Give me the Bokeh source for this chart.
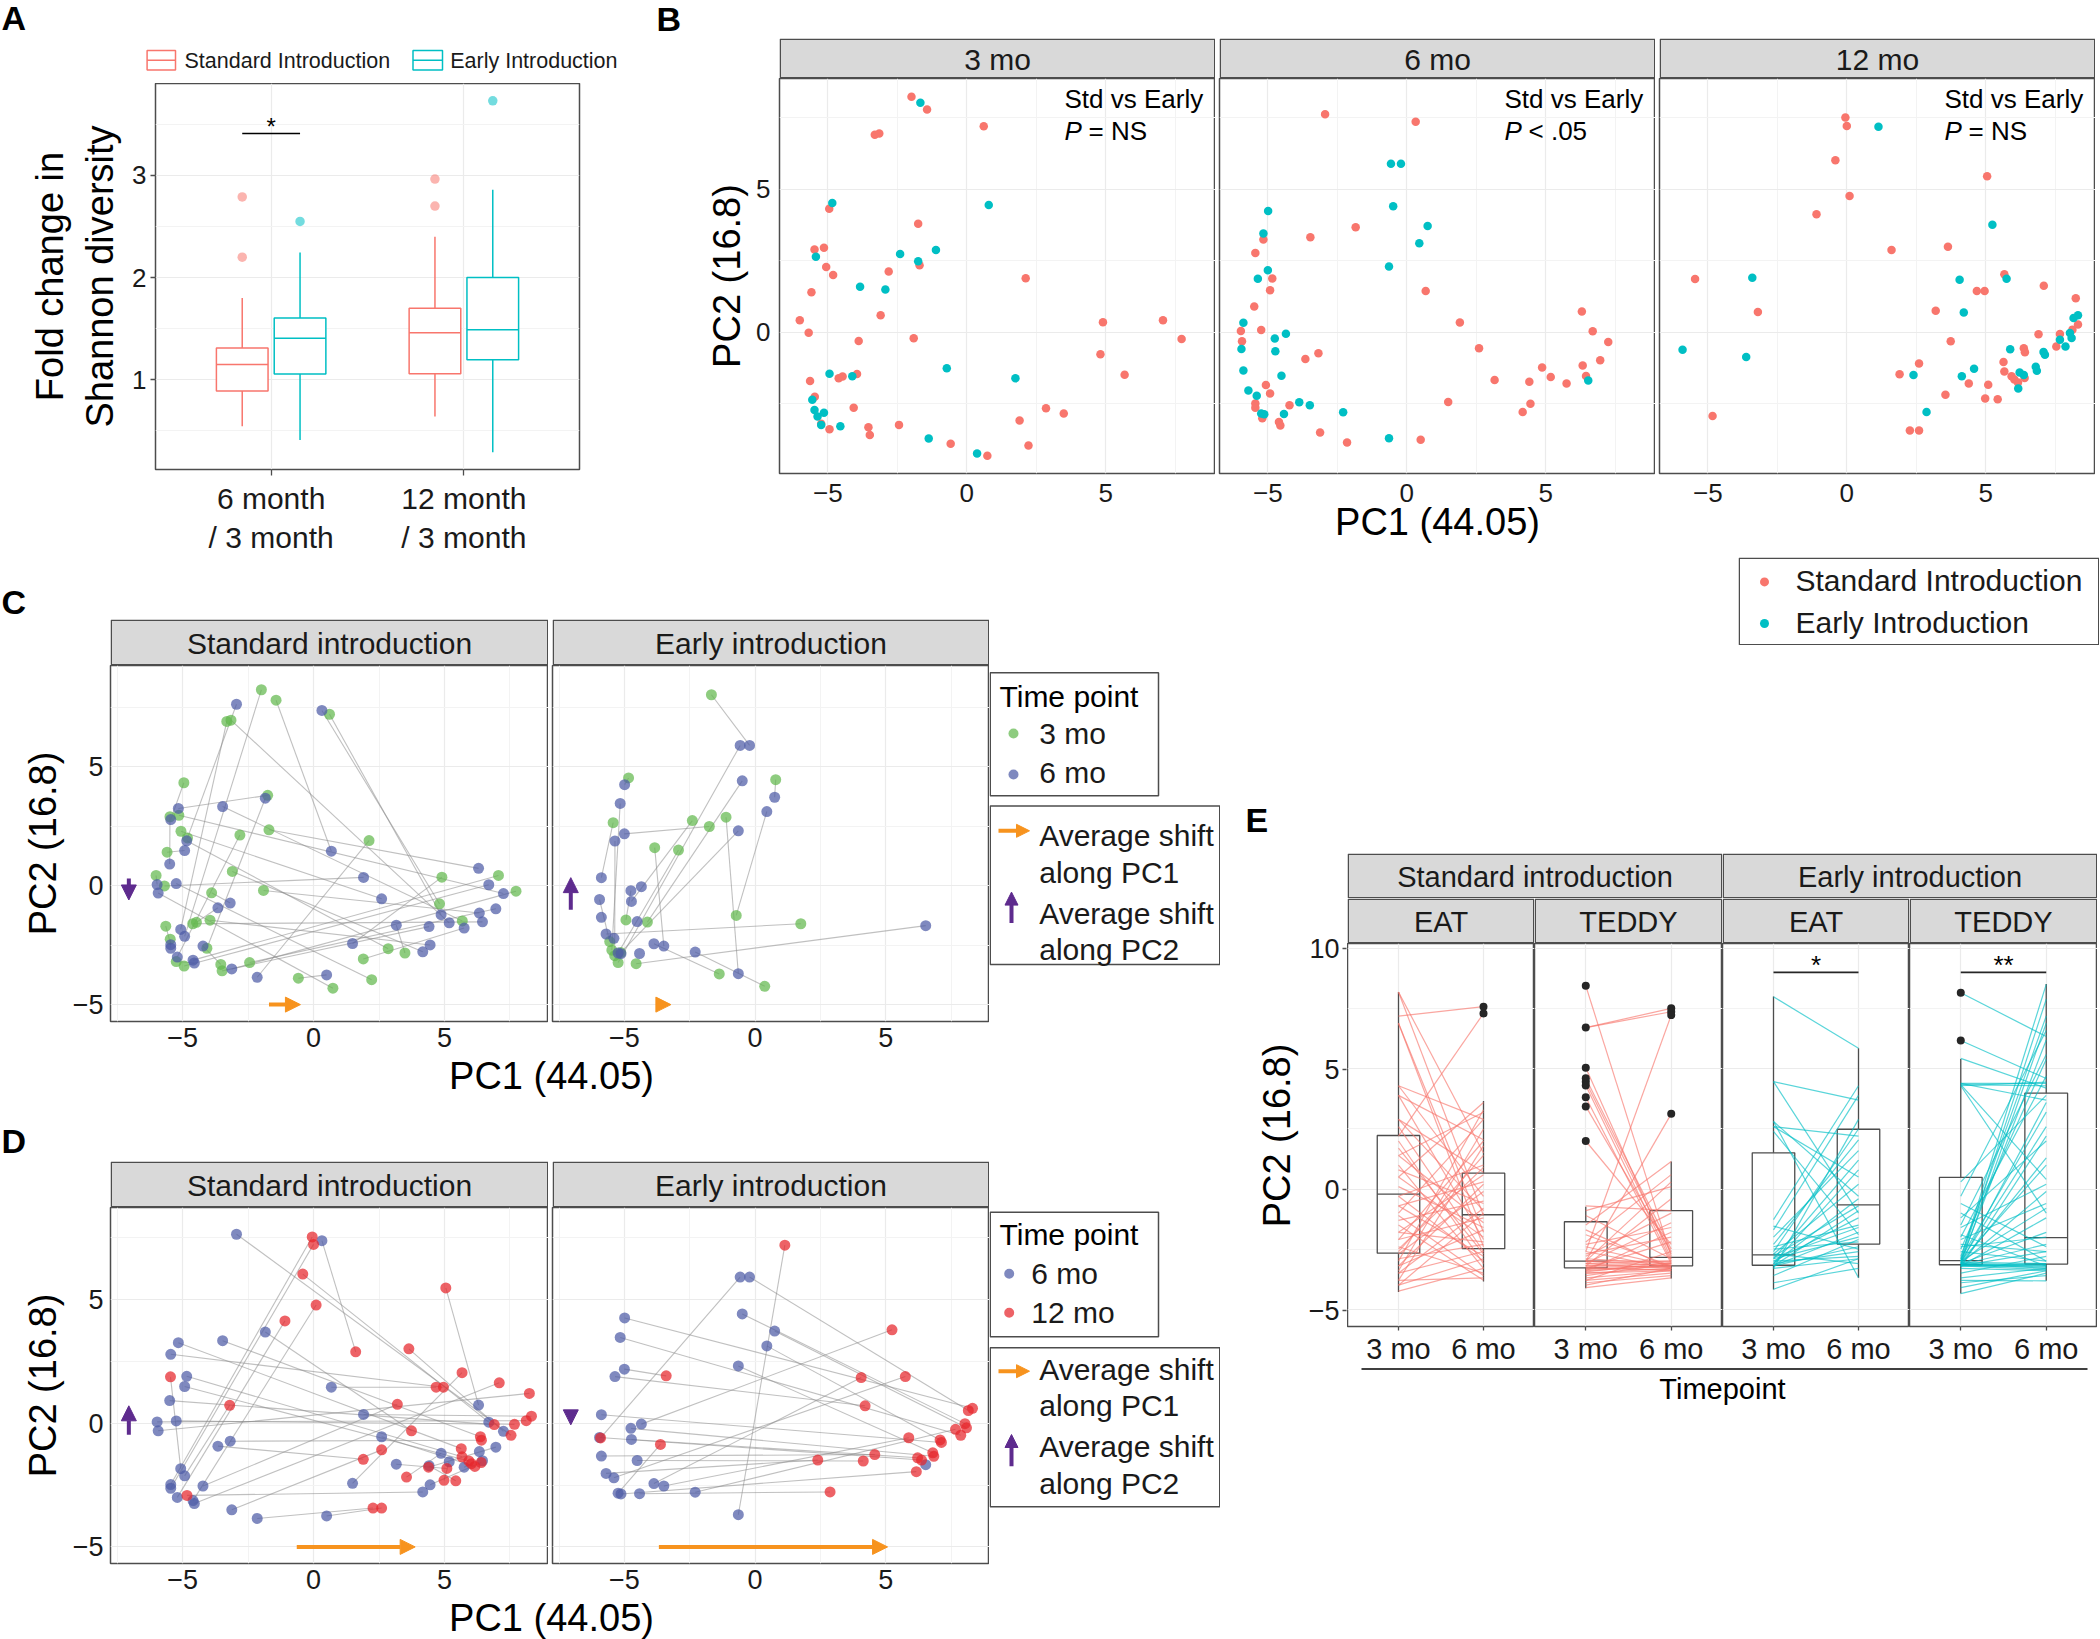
from bokeh.plotting import figure
from bokeh.layouts import row, column
from bokeh.models import FixedTicker, Label, Arrow, NormalHead, Range1d, Spacer
from bokeh.embed import file_html
from bokeh.resources import INLINE
from bokeh.core.properties import value

FONT = "Liberation Sans"
STD_COL = "#F8766D"
EARLY_COL = "#00BFC4"
GREEN = "#62B94E"
BLUE = "#4E5BA6"
RED = "#E6262B"
ORANGE = "#F7931E"
PURPLE = "#5E2B8E"
BORDER = "#4D4D4D"
STRIP_FILL = "#D9D9D9"
GRID = "#EBEBEB"
GRID_MINOR = "#F3F3F3"
TXT = "#1A1A1A"
MINUS = "\u2212"

# ---------------- Panel A data ----------------
A_CATS = ["6 month\n/ 3 month", "12 month\n/ 3 month"]
A_POS = [1, 2]
A_STD_LO = [0.545, 0.64]
A_STD_Q1 = [0.89, 1.06]
A_STD_MED = [1.15, 1.46]
A_STD_Q3 = [1.31, 1.70]
A_STD_HI = [1.80, 2.40]
A_EARLY_LO = [0.41, 0.29]
A_EARLY_Q1 = [1.056, 1.196]
A_EARLY_MED = [1.406, 1.49]
A_EARLY_Q3 = [1.605, 2.00]
A_EARLY_HI = [2.245, 2.86]
A_STD_OUT_CAT = [1, 1, 2, 2]
A_STD_OUT = [2.20, 2.79, 2.70, 2.965]
A_EARLY_OUT_CAT = [1, 2]
A_EARLY_OUT = [2.55, 3.73]
A_SIG_Y = 3.41

# ---------------- Panel B data (PC1, PC2) ----------------
S3_X = [-1.99, -1.43, 0.61, -3.31, -3.15, -4.95, -1.75, -5.48, -5.14, -5.06, -4.81, -2.81, -1.70, 2.12,
        -5.59, -3.10, -6.01, -5.69, -3.89, -1.91, 4.90, 7.06, 7.73, 4.81, 5.68, -5.64, -4.61, -4.47,
        -3.95, -5.47, -4.07, -5.24, -4.94, -3.54, -3.49, -2.44, 2.85, 3.49, 1.90, -0.58, 0.74, 2.22]
S3_Y = [8.24, 7.80, 7.21, 6.91, 6.96, 4.33, 3.80, 2.90, 2.96, 2.29, 2.01, 2.13, 2.35, 1.90,
        1.41, 0.60, 0.43, -0.01, -0.30, -0.20, 0.36, 0.43, -0.23, -0.76, -1.48, -1.70, -1.60, -1.54,
        -1.45, -2.25, -2.63, -3.19, -3.38, -3.31, -3.58, -3.23, -2.65, -2.83, -3.08, -3.89, -4.31, -3.95]
S6_X = [-2.94, -1.84, -3.47, -5.45, -5.16, -4.84, -4.92, -5.49, -5.24, -5.97, -5.93, -3.65, -3.18, -5.07,
        -4.92, -5.45, -5.45, -5.20, -4.60, -4.55, -4.22, -3.12, -2.15, 0.32, 0.68, 1.91, 2.60, 3.16,
        1.49, 4.41, 4.87, 5.18, 5.75, 4.17, 4.45, 6.30, 6.69, 7.25, 6.96, 6.33, 6.45, 0.50]
S6_Y = [7.63, 3.68, 3.33, 2.78, 3.25, 1.89, 1.48, 0.91, 0.09, 0.05, -0.31, -0.93, -0.73, -1.84,
        -2.13, -2.48, -2.63, -3.00, -3.13, -3.25, -2.54, -3.50, -3.85, 7.37, 1.45, 0.35, -0.55, -1.66,
        -2.43, -1.72, -1.22, -1.56, -1.78, -2.78, -2.49, 0.73, 0.04, -0.33, -0.97, -1.15, -1.52, -3.75]
S12_X = [-0.05, 0.00, -0.41, 5.05, 0.10, -1.09, 1.61, 3.64, -5.46, 5.67, 7.09, 4.68, 4.96, -3.20,
         3.20, 8.24, 3.74, 6.90, 7.67, 8.32, 8.12, 7.54, 6.37, 6.41, 5.64, 2.60, 1.90, 5.67,
         5.93, 6.03, 6.16, 6.40, 4.39, 5.09, 3.55, 4.98, 5.43, -4.83, 2.27, 2.60]
S12_Y = [7.52, 7.22, 6.02, 5.46, 4.77, 4.13, 2.88, 3.00, 1.87, 2.04, 1.63, 1.45, 1.45, 0.72,
         0.76, 1.20, -0.31, -0.06, -0.05, 0.28, 0.10, -0.49, -0.55, -0.69, -1.03, -1.08, -1.46, -1.36,
         -1.53, -1.64, -1.75, -1.59, -1.78, -1.83, -2.18, -2.31, -2.33, -2.92, -3.43, -3.43]
E3_X = [-1.67, -4.84, 0.79, -5.43, -2.40, -1.11, -1.75, -3.84, -2.93, -4.94, -4.12, -0.72, 1.75,
        -5.56, -5.48, -5.37, -5.14, -5.24, -4.55, -1.37, 0.37]
E3_Y = [8.03, 4.53, 4.46, 2.65, 2.74, 2.88, 2.49, 1.60, 1.50, -1.44, -1.53, -1.25, -1.60,
        -2.35, -2.71, -2.94, -2.81, -3.23, -3.28, -3.71, -4.23]
E6_X = [-0.57, -0.21, -0.49, -4.99, -5.16, -0.64, -5.00, -5.36, -5.88, -4.75, -4.35, -5.95, -4.73,
        -5.88, -4.51, -5.70, -5.40, -5.24, -5.13, -4.42, -3.87, -3.49, -2.29, -0.64, 0.75, 0.45, 6.53]
E6_Y = [5.90, 5.90, 4.41, 4.25, 3.46, 2.31, 2.18, 1.88, 0.34, -0.21, -0.04, -0.58, -0.66,
        -1.33, -1.51, -2.03, -2.21, -2.83, -2.86, -2.85, -2.44, -2.54, -2.79, -3.70, 3.72, 3.12, -1.68]
E12_X = [1.14, 5.24, -3.40, 4.06, 5.75, 4.21, -5.91, -3.62, 5.88, 8.16, 8.32, 8.03, 8.09, 7.67,
         7.87, 7.08, 7.13, 6.80, 6.84, 6.22, 6.37, 4.58, 4.14, 2.40, 6.17, 2.87]
E12_Y = [7.19, 3.77, 1.91, 1.84, 1.88, 0.70, -0.60, -0.86, -0.59, 0.51, 0.60, -0.02, -0.19, -0.25,
         -0.49, -0.68, -0.78, -1.20, -1.34, -1.40, -1.49, -1.27, -1.53, -1.49, -1.96, -2.78]
B_TIMES = ["3 mo", "6 mo", "12 mo"]
B_PTEXT = ["= NS", "< .05", "= NS"]

# ---------------- Panels C / D (subject pairs and average shifts) ----------------
C_STD_PAIRS = [(0, 14), (1, 24), (3, 13), (4, 31), (2, 30), (23, 23), (10, 0), (6, 4), (5, 3), (30, 1),
               (24, 2), (12, 35), (13, 22), (11, 17), (8, 37), (9, 26), (7, 7), (14, 6), (16, 9), (17, 25),
               (15, 33), (18, 12), (19, 39), (20, 28), (21, 18), (22, 21), (25, 15), (26, 40), (27, 11),
               (28, 34), (29, 16), (31, 19), (32, 36), (33, 20), (34, 29), (35, 38), (36, 5), (37, 27),
               (38, 32), (39, 41), (40, 10), (41, 8)]
C_EARLY_PAIRS = [(0, 1), (17, 0), (10, 2), (2, 24), (11, 25), (16, 5), (1, 3), (14, 4), (6, 6), (3, 8),
                 (15, 7), (7, 21), (8, 17), (5, 23), (12, 15), (18, 26), (19, 20), (20, 22), (9, 9),
                 (4, 12), (13, 11)]
D_STD_PAIRS = [(0, 21), (1, 16), (2, 22), (3, 12), (4, 24), (5, 27), (6, 28), (7, 17), (8, 18), (9, 20),
               (10, 15), (11, 26), (12, 23), (13, 8), (14, 13), (15, 0), (16, 1), (17, 5), (18, 4), (19, 10),
               (20, 14), (21, 25), (22, 38), (23, 6), (24, 11), (25, 19), (26, 30), (27, 33), (28, 9),
               (29, 36), (30, 34), (31, 35), (32, 29), (33, 37), (34, 31), (35, 3), (36, 2), (37, 7),
               (38, 32), (41, 39)]
D_EARLY_PAIRS = [(0, 6), (1, 9), (2, 11), (24, 12), (25, 15), (5, 17), (3, 10), (4, 14), (6, 2), (7, 5),
                 (8, 16), (10, 1), (9, 18), (12, 19), (11, 20), (13, 21), (14, 22), (15, 23), (16, 4),
                 (17, 7), (18, 24), (20, 3), (21, 8), (19, 25), (23, 0), (22, 13)]
ARROW_X = -7.05
ARROW_Y = -5.0
C_STD_PC1 = [-1.70, -0.50]
C_STD_PC2 = [0.30, -0.60]
C_EARLY_PC1 = [-3.78, -3.22]
C_EARLY_PC2 = [-1.01, 0.34]
D_STD_PC1 = [-0.64, 3.88]
D_STD_PC2 = [-0.47, 0.70]
D_EARLY_PC1 = [-3.68, 5.07]
D_EARLY_PC2 = [0.47, -0.07]

# ---------------- Panel E data ----------------
E_GROUPS = ["Standard introduction", "Early introduction"]
E_COHORTS = ["EAT", "TEDDY", "EAT", "TEDDY"]
E_TIMES = ["3 mo", "6 mo"]
E_LO = [[-4.28, -3.85], [-4.13, -3.72], [-4.18, -3.69], [-4.35, -3.82]]
E_Q1 = [[-2.67, -2.48], [-3.28, -3.20], [-3.17, -2.29], [-3.15, -3.12]]
E_MED = [[-0.21, -1.07], [-3.00, -2.84], [-2.74, -0.66], [-2.98, -2.02]]
E_Q3 = [[2.23, 0.66], [-1.36, -0.90], [1.51, 2.49], [0.49, 3.99]]
E_HI = [[8.20, 3.66], [-0.74, 1.15], [8.01, 5.86], [5.41, 8.53]]
E_OUT_3 = [[], [8.46, 6.72, 5.05, 4.61, 4.47, 4.31, 3.82, 3.44, 2.00], [], [8.17, 6.18]]
E_OUT_6 = [[7.59, 7.31], [7.52, 7.38, 7.24, 3.13], [], []]
E_SIG = ["", "", "*", "**"]
E_SIG_Y = 9.02
E_STD_EAT_3 = [8.2, 8.2, 7.2, 6.9, 6.9, 2.2, 4.3, 4.3, 3.9, 3.9, 2.9, 2.9, 2.6, 1.4, 1.4, 1.0, 0.5, 0.5, 0.1,
               -0.3, -0.3, -0.7, -0.7, -1.0, -1.3, -1.5, -1.8, -1.8, -2.1, -2.1, -2.4, -2.6, -2.7, -2.9,
               -3.0, -3.2, -3.2, -3.5, -3.5, -3.8, -3.8, -4.0, -4.0, -4.25, 2.0, 0.8, -1.1, -2.5, -3.4, 1.7]
E_STD_EAT_6 = [-1.1, 1.5, 7.59, -1.8, -2.4, 7.31, 2.9, -0.3, 2.05, -2.1, 0.7, -0.9, -2.6, -1.4, 3.2, -3.3,
               -2.0, 3.6, -1.6, 1.0, -3.0, 0.3, -2.8, 2.9, -0.5, -3.8, 0.6, -2.2, 2.0, -1.2, -3.5, 1.4,
               -0.1, -2.3, 3.3, -1.7, 0.2, -2.6, -0.8, -3.7, 1.8, -2.9, -1.0, -3.3, -3.1, -0.6, -3.6, 0.9,
               2.5, -2.7]
E_STD_TEDDY_3 = [8.46, 6.72, 6.72, 5.05, 4.61, 4.47, 4.31, 3.82, 3.44, 2.0, -2.6, -3.0, -0.7, -0.9, -1.1,
                 -1.5, -1.9, -2.2, -2.6, -2.8, -2.9, -3.0, -3.0, -3.1, -3.1, -3.1, -3.2, -3.2, -3.2, -3.3,
                 -3.3, -3.4, -3.4, -3.5, -3.5, -3.6, -3.7, -3.8, -3.8, -3.9, -4.0, -4.1, -2.4, -2.7, -3.0,
                 -1.7, -2.3, -3.35, -3.45, -3.25]
E_STD_TEDDY_6 = [-2.8, 7.52, 7.38, -2.9, -2.5, -2.7, -3.0, -3.1, -2.6, -2.3, 7.24, 3.13, -0.9, 0.1, -2.9,
                 1.15, -3.2, 0.6, -3.3, -1.0, -3.1, 0.3, -3.2, -1.4, -3.0, -3.3, -0.4, -3.1, -3.25, -2.2,
                 -3.35, -3.2, -1.8, -3.3, -3.4, -3.1, -3.4, -3.5, -2.6, -3.6, -3.3, -3.7, -3.2, -2.0, -3.0,
                 -3.3, -1.6, -3.15, -3.05, -3.4]
E_EARLY_EAT_3 = [8.0, 4.47, 4.47, 2.81, 2.81, 2.6, 2.4, 2.6, -1.27, -1.54, -1.7, -2.0, -2.3, -2.4, -2.5,
                 -2.6, -2.7, -2.8, -2.9, -2.9, -3.0, -3.0, -3.1, -3.1, -3.2, -3.2, -3.2, -3.3, -3.3, -2.85,
                 -4.17, -3.6, -3.9, -2.7, -3.1]
E_EARLY_EAT_6 = [5.86, 3.7, -1.0, -3.69, -0.3, 2.2, -1.9, 0.5, 4.3, -2.5, 3.9, 1.6, 2.05, -1.5, -2.2,
                 2.5, 0.2, -0.7, -2.0, 1.2, -1.2, -2.8, 0.8, -2.6, -1.8, -0.9, -2.4, 2.9, -2.9, -1.6,
                 -2.9, -2.1, -3.3, -3.1, -0.4]
E_EARLY_TEDDY_3 = [8.17, 6.18, 5.44, 4.4, 4.35, 4.3, 4.4, 4.3, 4.35, -2.9, -3.0, -2.8, -3.1, -2.5, -3.0,
                   -2.0, -1.5, -0.3, 0.3, -3.1, -2.9, -3.0, -3.1, -3.0, -3.1, -2.1, -1.2, -1.6, -3.2, -3.1,
                   -3.15, -3.2, -3.15, -3.2, -3.1, -3.2, -3.1, -3.2, -3.15, -3.05, -3.3, -3.5, -3.7, -3.9,
                   -4.1, -4.35, -3.8, -2.6, -2.3, -1.9, -2.4, -1.0, -0.6, -3.25, -3.0]
E_EARLY_TEDDY_6 = [6.35, 4.6, 4.2, 4.4, 4.3, 4.45, 3.7, -1.0, 0.4, 8.52, 7.9, 7.2, 6.9, 5.4, 6.2,
                   4.7, 5.6, 6.6, 3.9, 3.6, 3.2, 2.6, 1.3, 1.0, -0.1, -0.6, 2.0, 0.2, -1.2, -1.8,
                   -2.3, -2.6, -3.2, -3.1, -3.15, -3.25, -3.3, -3.35, -3.2, -3.1, -3.4, -2.8, -3.3, -3.6,
                   -3.4, -3.5, -3.82, -3.0, -2.6, -3.2, -2.0, -3.0, -2.4, 2.2, -0.8]


# ---------------- helpers ----------------
def blank(w, h):
    p = figure(width=w, height=h, x_range=Range1d(0, w), y_range=Range1d(h, 0),
               x_axis_type=None, y_axis_type=None, output_backend="svg",
               toolbar_location=None, min_border=0)
    p.frame_align = False
    p.outline_line_color = None
    return p


def add_text(p, x, y, t, size, align="left", color="black", style="normal"):
    # y is the vertical centre of the text line
    p.text(x=[x], y=[y], text=[t], text_font=value(FONT), text_font_size=size,
           text_align=align, text_baseline="middle", text_color=color, text_font_style=style)


def letter(p, x, y, t):
    add_text(p, x, y, t, "34px", style="bold")


def strip(w, h, label, size="30px"):
    p = blank(w, h)
    p.quad(left=[0.75], right=[w - 0.75], top=[0.75], bottom=[h - 0.75],
           fill_color=STRIP_FILL, line_color=BORDER, line_width=1.5)
    add_text(p, w / 2, h / 2 + 1, label, size, align="center", color=TXT)
    return p


def facet(w, h, xr, yr, bl, bb, xt, xmin, yt, ymin, xlab=None, ylab=None, show_y=True,
          tick_size="27px", x_tick_out=0, y_tick_out=0, x_stand=5, y_stand=3):
    p = figure(width=w, height=h, x_range=Range1d(*xr), y_range=Range1d(*yr),
               output_backend="svg", toolbar_location=None,
               min_border_left=bl, min_border_right=0, min_border_top=0, min_border_bottom=bb)
    p.frame_align = False
    p.xaxis.ticker = FixedTicker(ticks=xt, minor_ticks=xmin)
    p.yaxis.ticker = FixedTicker(ticks=yt, minor_ticks=ymin)
    if xlab:
        p.xaxis.major_label_overrides = xlab
    if ylab:
        p.yaxis.major_label_overrides = ylab
    for ax, tout, st in ((p.xaxis, x_tick_out, x_stand), (p.yaxis, y_tick_out, y_stand)):
        ax.axis_line_color = None
        ax.major_tick_in = 0
        ax.major_tick_out = tout
        ax.major_tick_line_color = BORDER if tout else None
        ax.major_tick_line_width = 1.3
        ax.minor_tick_line_color = None
        ax.major_label_standoff = st
        ax.major_label_text_font = FONT
        ax.major_label_text_font_size = tick_size
        ax.major_label_text_color = TXT
        ax.axis_label_text_font = FONT
        ax.axis_label_text_font_style = "normal"
        ax.axis_label_text_color = "black"
        ax.axis_label_text_font_size = "38px"
    p.grid.grid_line_color = GRID
    p.grid.grid_line_width = 1.2
    p.grid.minor_grid_line_color = GRID_MINOR
    p.outline_line_color = BORDER
    p.outline_line_width = 1.5
    if not show_y:
        p.yaxis.visible = False
    return p


def slabel(p, x, y, t, size="26px", italic=False):
    p.add_layout(Label(x=x, y=y, x_units="screen", y_units="screen", text=t, text_font=FONT,
                       text_font_size=size, text_font_style="italic" if italic else "normal",
                       text_baseline="top", text_color="black"))


# ================= PANEL A =================
headA = blank(648, 83)
letter(headA, 1, 17, "A")
headA.quad(left=[146.6], right=[175], top=[50], bottom=[69.6], fill_color="white",
           line_color=STD_COL, line_width=1.5)
headA.segment(x0=[146.6], y0=[59.8], x1=[175], y1=[59.8], line_color=STD_COL, line_width=1.5)
add_text(headA, 184, 60, "Standard Introduction", "21.5px", color=TXT)
headA.quad(left=[412.5], right=[442], top=[50], bottom=[69.6], fill_color="white",
           line_color=EARLY_COL, line_width=1.5)
headA.segment(x0=[412.5], y0=[59.8], x1=[442], y1=[59.8], line_color=EARLY_COL, line_width=1.5)
add_text(headA, 449.7, 60, "Early Introduction", "21.5px", color=TXT)

pA = facet(648, 474, (0.4, 2.6), (0.122, 3.90), bl=155, bb=88, xt=A_POS, xmin=[],
           yt=[1, 2, 3], ymin=[0.5, 1.5, 2.5, 3.5], xlab={1: A_CATS[0], 2: A_CATS[1]},
           tick_size="26px", x_tick_out=6, y_tick_out=5, x_stand=6, y_stand=4)
pA.min_border_right = 69
pA.xaxis.major_label_text_font_size = "30px"
pA.yaxis.axis_label = "Fold change in\nShannon diversity"
pA.yaxis.axis_label_standoff = 8
A_DODGE = 0.15
A_HALF = 0.134
for pos_off, lo, q1, med, q3, hi, oc, ov, col in (
        (-A_DODGE, A_STD_LO, A_STD_Q1, A_STD_MED, A_STD_Q3, A_STD_HI, A_STD_OUT_CAT, A_STD_OUT, STD_COL),
        (A_DODGE, A_EARLY_LO, A_EARLY_Q1, A_EARLY_MED, A_EARLY_Q3, A_EARLY_HI, A_EARLY_OUT_CAT, A_EARLY_OUT,
         EARLY_COL)):
    xc = [c + pos_off for c in A_POS]
    pA.segment(x0=xc, y0=lo, x1=xc, y1=q1, line_color=col, line_width=1.5)
    pA.segment(x0=xc, y0=q3, x1=xc, y1=hi, line_color=col, line_width=1.5)
    pA.quad(left=[x - A_HALF for x in xc], right=[x + A_HALF for x in xc], bottom=q1, top=q3,
            fill_color="white", line_color=col, line_width=1.5)
    pA.segment(x0=[x - A_HALF for x in xc], y0=med, x1=[x + A_HALF for x in xc], y1=med,
               line_color=col, line_width=1.5)
    pA.scatter(x=[c + pos_off for c in oc], y=ov, size=9.5, fill_color=col, fill_alpha=0.55,
               line_color=None)
pA.segment(x0=[A_POS[0] - A_DODGE], y0=[A_SIG_Y], x1=[A_POS[0] + A_DODGE], y1=[A_SIG_Y],
           line_color="black", line_width=1.5)
pA.text(x=[A_POS[0]], y=[A_SIG_Y], text=["*"], text_font=value(FONT), text_font_size="24px",
        text_align="center", text_baseline="bottom", y_offset=6)
colA = column(headA, pA)

# ================= PANEL B =================
headB = blank(1452, 38)
letter(headB, 8, 18, "B")
B_XR = (-6.74, 8.95)
B_YR = (-4.93, 8.88)
strips_B = [Spacer(width=131, height=40)]
figs_B = []
b_sets = [(S3_X, S3_Y, E3_X, E3_Y), (S6_X, S6_Y, E6_X, E6_Y), (S12_X, S12_Y, E12_X, E12_Y)]
for i, (sx, sy, ex, ey) in enumerate(b_sets):
    bl = 131 if i == 0 else 4
    if i > 0:
        strips_B.append(Spacer(width=4, height=40))
    strips_B.append(strip(436, 40, B_TIMES[i]))
    p = facet(bl + 436, 479, B_XR, B_YR, bl=bl, bb=84, xt=[-5, 0, 5], xmin=[-7.5, -2.5, 2.5, 7.5],
              yt=[0, 5], ymin=[-2.5, 2.5, 7.5], xlab={-5: MINUS + "5"}, show_y=(i == 0),
              tick_size="26px", x_stand=6, y_stand=5)
    p.scatter(x=sx, y=sy, size=8.5, fill_color=STD_COL, line_color=None)
    p.scatter(x=ex, y=ey, size=8.5, fill_color=EARLY_COL, line_color=None)
    slabel(p, 285, 390, "Std vs Early")
    slabel(p, 285, 358, "P", italic=True)
    slabel(p, 309, 358, B_PTEXT[i])
    if i == 0:
        p.yaxis.axis_label = "PC2 (16.8)"
    if i == 1:
        p.xaxis.axis_label = "PC1 (44.05)"
        p.xaxis.axis_label_standoff = -4
    figs_B.append(p)
strips_B.append(Spacer(width=5, height=40))
colB = column(headB, row(*strips_B), row(*figs_B, Spacer(width=5, height=479)))

top_row = row(colA, colB)

# ================= PANELS C / D =================
CD_XR = (-7.75, 8.97)


def cd_block(tag, head_h, letter_y, title_h, title_y, yr, a_x, a_y, b_x, b_y, pairs_std, pairs_early,
             col_a, col_b, arrows, lab_a, lab_b, leg_pos):
    head = blank(1220, head_h)
    letter(head, 1, letter_y, tag)
    strips = row(Spacer(width=110, height=46), strip(438, 46, "Standard introduction"),
                 Spacer(width=4, height=46), strip(437, 46, "Early introduction"),
                 Spacer(width=231, height=46))
    figs = []
    for k in range(2):
        bl = 110 if k == 0 else 4
        p = facet(bl + (438 if k == 0 else 437), 389, CD_XR, yr, bl=bl, bb=33,
                  xt=[-5, 0, 5], xmin=[-7.5, -2.5, 2.5, 7.5], yt=[-5, 0, 5], ymin=[-2.5, 2.5, 7.5],
                  xlab={-5: MINUS + "5"}, ylab={-5: MINUS + "5"}, show_y=(k == 0),
                  tick_size="27px", x_stand=2, y_stand=3)
        if k == 0:
            p.yaxis.axis_label = "PC2 (16.8)"
            p.yaxis.axis_label_standoff = 6
        ax_, ay_, bx_, by_ = a_x[k], a_y[k], b_x[k], b_y[k]
        pairs = pairs_std if k == 0 else pairs_early
        p.segment(x0=[ax_[i] for i, j in pairs], y0=[ay_[i] for i, j in pairs],
                  x1=[bx_[j] for i, j in pairs], y1=[by_[j] for i, j in pairs],
                  line_color="#8C8C8C", line_alpha=0.55, line_width=1.1)
        p.scatter(x=ax_, y=ay_, size=11, fill_color=col_a, fill_alpha=0.72, line_color=None)
        p.scatter(x=bx_, y=by_, size=11, fill_color=col_b, fill_alpha=0.72, line_color=None)
        pc1, pc2 = arrows[k]
        p.add_layout(Arrow(end=NormalHead(size=15, fill_color=ORANGE, line_color=ORANGE),
                           x_start=pc1[0], y_start=ARROW_Y, x_end=pc1[1], y_end=ARROW_Y,
                           line_color=ORANGE, line_width=4))
        p.add_layout(Arrow(end=NormalHead(size=15, fill_color=PURPLE, line_color=PURPLE),
                           x_start=ARROW_X, y_start=pc2[0], x_end=ARROW_X, y_end=pc2[1],
                           line_color=PURPLE, line_width=4))
        figs.append(p)
    (b1t, b1b, d1, d2, tx, tt, t1, t2, b2t, b2b, oy, s1, s2, s3, s4, py0, py1, dx) = leg_pos
    leg = blank(231, 389)
    leg.quad(left=[0.75], right=[169], top=[b1t], bottom=[b1b], fill_color="white",
             line_color=BORDER, line_width=1.5)
    add_text(leg, 10, tt, "Time point", "30px")
    leg.scatter(x=[dx, dx], y=[d1, d2], size=10, fill_color=[col_a, col_b], fill_alpha=0.72,
                line_color=None)
    add_text(leg, tx, t1, lab_a, "30px", color=TXT)
    add_text(leg, tx, t2, lab_b, "30px", color=TXT)
    leg.quad(left=[0.75], right=[230.25], top=[b2t], bottom=[b2b], fill_color="white",
             line_color=BORDER, line_width=1.5)
    leg.add_layout(Arrow(end=NormalHead(size=13, fill_color=ORANGE, line_color=ORANGE),
                         x_start=9, y_start=oy, x_end=40, y_end=oy, line_color=ORANGE, line_width=4))
    leg.add_layout(Arrow(end=NormalHead(size=13, fill_color=PURPLE, line_color=PURPLE),
                         x_start=22, y_start=py0, x_end=22, y_end=py1, line_color=PURPLE, line_width=4))
    add_text(leg, 49.7, s1, "Average shift", "30px", color=TXT)
    add_text(leg, 49.7, s2, "along PC1", "30px", color=TXT)
    add_text(leg, 49.7, s3, "Average shift", "30px", color=TXT)
    add_text(leg, 49.7, s4, "along PC2", "30px", color=TXT)
    title = blank(1220, title_h)
    add_text(title, 551, title_y, "PC1 (44.05)", "38px", align="center")
    return column(head, strips, row(figs[0], figs[1], leg), title)


C_block = cd_block("C", 62, 44, 43, 21.5, (-5.71, 9.26),
                   [S3_X, E3_X], [S3_Y, E3_Y], [S6_X, E6_X], [S6_Y, E6_Y],
                   C_STD_PAIRS, C_EARLY_PAIRS, GREEN, BLUE,
                   [(C_STD_PC1, C_STD_PC2), (C_EARLY_PC1, C_EARLY_PC2)], "3 mo", "6 mo",
                   (7.3, 130.2, 68, 109, 49.7, 31.3, 67.9, 107.3, 140.6, 299, 165.3,
                    170.3, 206.7, 248, 284.2, 257.6, 226.6, 24))
D_block = cd_block("D", 64, 43, 43, 21.5, (-5.67, 8.71),
                   [S6_X, E6_X], [S6_Y, E6_Y], [S12_X, E12_X], [S12_Y, E12_Y],
                   D_STD_PAIRS, D_EARLY_PAIRS, BLUE, RED,
                   [(D_STD_PC1, D_STD_PC2), (D_EARLY_PC1, D_EARLY_PC2)], "6 mo", "12 mo",
                   (4.7, 129.3, 66.3, 105.3, 41.8, 27, 66, 104.7, 140.3, 299.3, 163.7,
                    162, 198, 239.3, 276, 258.7, 227, 19.7))
left_col = column(C_block, D_block)

# ================= Legend B =================
legB = blank(361, 88)
legB.quad(left=[0.75], right=[360.25], top=[0.75], bottom=[87.25], fill_color="white",
          line_color=BORDER, line_width=1.5)
legB.scatter(x=[26, 26], y=[24.4, 66], size=9, fill_color=[STD_COL, EARLY_COL], line_color=None)
add_text(legB, 57, 23, "Standard Introduction", "30px", color=TXT)
add_text(legB, 57, 64.5, "Early Introduction", "30px", color=TXT)

# ================= PANEL E =================
E_W = [187, 188, 187, 188]
E_YR = (-5.72, 10.22)
E_YT = [-5, 0, 5, 10]
headE = blank(880, 208)
letter(headE, 25, 174, "E")
stripsE1 = row(strip(375, 45, E_GROUPS[0], "29px"), strip(375, 45, E_GROUPS[1], "29px"),
               Spacer(width=3, height=45))
stripsE2 = row(*[strip(E_W[k], 45, E_COHORTS[k], "29px") for k in range(4)], Spacer(width=3, height=45))
E_LINES = [(E_STD_EAT_3, E_STD_EAT_6, STD_COL), (E_STD_TEDDY_3, E_STD_TEDDY_6, STD_COL),
           (E_EARLY_EAT_3, E_EARLY_EAT_6, EARLY_COL), (E_EARLY_TEDDY_3, E_EARLY_TEDDY_6, EARLY_COL)]
E_POS = [1, 2]

# shared y axis of panel E (its labels may rise above the panel top, next to the strips)
yE = facet(127, 436, (0, 1), E_YR, bl=126, bb=40, xt=[], xmin=[], yt=E_YT, ymin=[],
           ylab={-5: MINUS + "5"}, tick_size="27px", y_tick_out=4, y_stand=3)
yE.min_border_top = 12
yE.xaxis.visible = False
yE.grid.visible = False
yE.outline_line_color = None
yE.yaxis.axis_label = "PC2 (16.8)"
yE.yaxis.axis_label_standoff = 8

figs_E = []
for k in range(4):
    p = facet(E_W[k], 424, (0.4, 2.6), E_YR, bl=0, bb=40, xt=E_POS, xmin=[],
              yt=E_YT, ymin=[-2.5, 2.5, 7.5], xlab={1: E_TIMES[0], 2: E_TIMES[1]},
              show_y=False, tick_size="29px", x_tick_out=4, x_stand=2)
    p.quad(left=[x - 0.25 for x in E_POS], right=[x + 0.25 for x in E_POS], bottom=E_Q1[k], top=E_Q3[k],
           fill_color=None, line_color=BORDER, line_width=1.3)
    p.segment(x0=[x - 0.25 for x in E_POS], y0=E_MED[k], x1=[x + 0.25 for x in E_POS], y1=E_MED[k],
              line_color=BORDER, line_width=1.3)
    p.segment(x0=E_POS, y0=E_LO[k], x1=E_POS, y1=E_Q1[k], line_color=BORDER, line_width=1.3)
    p.segment(x0=E_POS, y0=E_Q3[k], x1=E_POS, y1=E_HI[k], line_color=BORDER, line_width=1.3)
    y3, y6, col = E_LINES[k]
    p.segment(x0=[E_POS[0]] * len(y3), y0=y3, x1=[E_POS[1]] * len(y6), y1=y6,
              line_color=col, line_alpha=0.65, line_width=1.2)
    p.scatter(x=[E_POS[0]] * len(E_OUT_3[k]), y=E_OUT_3[k], size=8, fill_color="#262626", line_color=None)
    p.scatter(x=[E_POS[1]] * len(E_OUT_6[k]), y=E_OUT_6[k], size=8, fill_color="#262626", line_color=None)
    if E_SIG[k]:
        p.segment(x0=[E_POS[0]], y0=[E_SIG_Y], x1=[E_POS[1]], y1=[E_SIG_Y], line_color="#262626",
                  line_width=1.6)
        p.text(x=[1.5], y=[E_SIG_Y], text=[E_SIG[k]], text_font=value(FONT), text_font_size="26px",
               text_align="center", text_baseline="bottom", y_offset=8)
    figs_E.append(p)
bottomE = blank(880, 43)
bottomE.segment(x0=[141], y0=[1.5], x1=[867], y1=[1.5], line_color="black", line_width=1.5)
add_text(bottomE, 502, 21, "Timepoint", "29px", align="center")

e_body = row(column(Spacer(width=127, height=78), yE),
             column(stripsE1, stripsE2, row(*figs_E, Spacer(width=3, height=424))))
right_col = column(row(Spacer(width=518, height=88), legB, Spacer(width=1, height=88)), headE,
                   e_body, bottomE)

layout = column(top_row, row(left_col, right_col))
open("out.html", "w").write(file_html(layout, INLINE))
